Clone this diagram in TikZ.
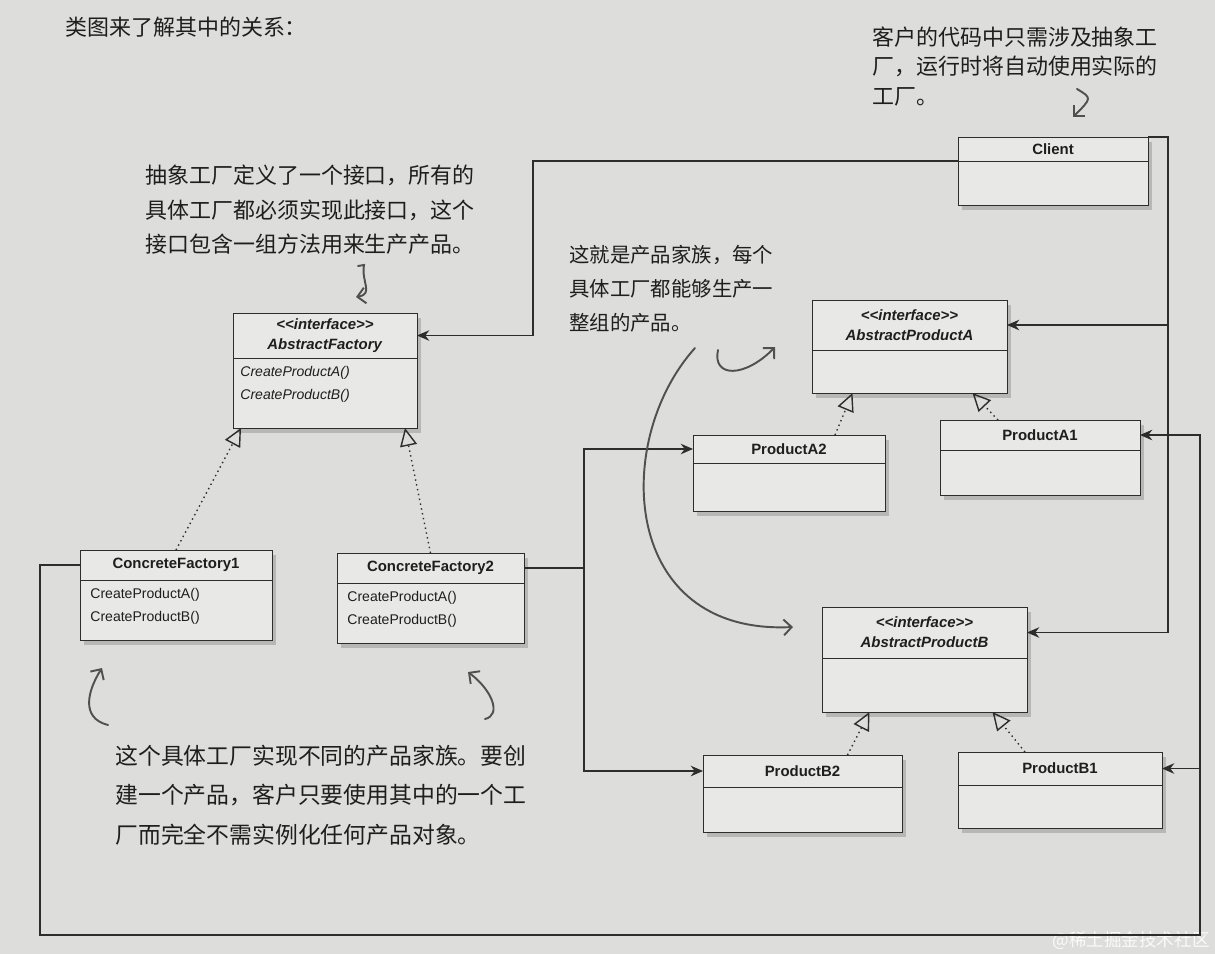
\documentclass[tikz,border=0pt]{standalone}
\usepackage{fontspec}
\usepackage{xcolor}
\newfontfamily\umlfont{Liberation Sans}
\newfontfamily\handfont{Noto Sans CJK SC}
\usetikzlibrary{arrows.meta,positioning,shadows,calc}

\definecolor{paper}{RGB}{221,221,219}
\definecolor{card}{RGB}{232,232,230}
\definecolor{edge}{RGB}{45,45,45}
\definecolor{pencil}{RGB}{80,80,80}
\definecolor{ink}{RGB}{30,30,30}

\begin{document}
\begin{tikzpicture}[
    x=0.02cm, y=-0.02cm,
    classhead/.style={rectangle, draw=edge, fill=card, line width=0.5pt, inner sep=1pt, outer sep=0pt, align=center, text=ink,
        font=\umlfont\bfseries\fontsize{8.5}{11.3}\selectfont,
        drop shadow={opacity=0.4, shadow xshift=0.08cm, shadow yshift=-0.1cm}},
    classbody/.style={rectangle, draw=edge, fill=card, line width=0.5pt, outer sep=0pt,
        drop shadow={opacity=0.4, shadow xshift=0.08cm, shadow yshift=-0.1cm}},
    methods/.style={anchor=north west, align=left, inner sep=0pt, text=ink, font=\umlfont\fontsize{8}{13.3}\selectfont},
    assoc/.style={-{Stealth[length=7pt, width=6pt]}, draw=edge, line width=0.85pt},
    realize/.style={-{Triangle[open, length=0.36cm, width=0.34cm]}, draw=edge, dotted, line width=0.8pt},
    annot/.style={anchor=north west, align=left, inner sep=0pt, text=ink},
    scribble/.style={-{Straight Barb[length=4.5pt, width=9pt]}, draw=pencil, line width=1.1pt, line cap=round}
]
    \fill[paper] (0,0) rectangle (1215,954);
    \useasboundingbox (0,0) rectangle (1215,954);

    % Page text
    \node[annot, font=\handfont\fontsize{12.5}{15}\selectfont] (lead) at (65,17) {类图来了解其中的关系：};

    % Client
    \node[classhead, minimum width=3.8cm, minimum height=0.48cm] (clienth) at (1053,149) {Client};
    \node[classbody, minimum width=3.8cm, minimum height=0.88cm, below=0pt of clienth] (clientb) {};

    % Factories
    \node[classhead, minimum width=3.68cm, minimum height=0.9cm] (afh) at (325,335.5) {\textit{<<interface>>}\\\textit{AbstractFactory}};
    \node[classbody, minimum width=3.68cm, minimum height=1.4cm, below=0pt of afh] (afb) {};
    \node[methods] (afm) at ($(afb.north west)+(7,8)$) {\textit{CreateProductA()}\\\textit{CreateProductB()}};

    \node[classhead, minimum width=3.84cm, minimum height=0.6cm] (cf1h) at (176,565) {ConcreteFactory1};
    \node[classbody, minimum width=3.84cm, minimum height=1.2cm, below=0pt of cf1h] (cf1b) {};
    \node[methods] (cf1m) at ($(cf1b.north west)+(10,8)$) {CreateProductA()\\CreateProductB()};

    \node[classhead, minimum width=3.74cm, minimum height=0.6cm] (cf2h) at (430.5,568) {ConcreteFactory2};
    \node[classbody, minimum width=3.74cm, minimum height=1.2cm, below=0pt of cf2h] (cf2b) {};
    \node[methods] (cf2m) at ($(cf2b.north west)+(10,8)$) {CreateProductA()\\CreateProductB()};

    % Products A
    \node[classhead, minimum width=3.9cm, minimum height=1cm] (apah) at (909.5,325) {\textit{<<interface>>}\\\textit{AbstractProductA}};
    \node[classbody, minimum width=3.9cm, minimum height=0.86cm, below=0pt of apah] (apab) {};

    \node[classhead, minimum width=3.84cm, minimum height=0.56cm] (pa2h) at (789,449) {ProductA2};
    \node[classbody, minimum width=3.84cm, minimum height=0.96cm, below=0pt of pa2h] (pa2b) {};

    \node[classhead, minimum width=4cm, minimum height=0.6cm] (pa1h) at (1040,435) {ProductA1};
    \node[classbody, minimum width=4cm, minimum height=0.9cm, below=0pt of pa1h] (pa1b) {};

    % Products B
    \node[classhead, minimum width=4.1cm, minimum height=1.02cm] (apbh) at (924.5,632.5) {\textit{<<interface>>}\\\textit{AbstractProductB}};
    \node[classbody, minimum width=4.1cm, minimum height=1.08cm, below=0pt of apbh] (apbb) {};

    \node[classhead, minimum width=3.98cm, minimum height=0.64cm] (pb2h) at (802.5,771) {ProductB2};
    \node[classbody, minimum width=3.98cm, minimum height=0.9cm, below=0pt of pb2h] (pb2b) {};

    \node[classhead, minimum width=4.08cm, minimum height=0.66cm] (pb1h) at (1060,768.5) {ProductB1};
    \node[classbody, minimum width=4.08cm, minimum height=0.86cm, below=0pt of pb1h] (pb1b) {};

    % Notes
    \node[annot, font=\handfont\fontsize{12.5}{17}\selectfont] (clientnote) at (872,26) {客户的代码中只需涉及抽象工\\厂，运行时将自动使用实际的\\工厂。};
    \node[annot, font=\handfont\fontsize{12.5}{19.6}\selectfont] (afnote) at (145,165) {抽象工厂定义了一个接口，所有的\\具体工厂都必须实现此接口，这个\\接口包含一组方法用来生产产品。};
    \node[annot, font=\handfont\fontsize{11.6}{19.3}\selectfont] (familynote) at (569,245) {这就是产品家族，每个\\具体工厂都能够生产一\\整组的产品。};
    \node[annot, font=\handfont\fontsize{13}{22.3}\selectfont] (cfnote) at (115,745) {这个具体工厂实现不同的产品家族。要创\\建一个产品，客户只要使用其中的一个工\\厂而完全不需实例化任何产品对象。};
    \node[anchor=east, inner sep=0pt, text=white!85!paper, font=\handfont\fontsize{10}{12}\selectfont] (mark) at (1210,941) {@稀土掘金技术社区};

    % Associations
    \coordinate (bus) at (1200,935);
    \draw[assoc] (clienth.south west) -- ++(-425,0) |- (afh.east);
    \draw[assoc] (clienth.north east) -- ++(20,0) |- (apah.east);
    \draw[assoc] (clienth.north east) -- ++(20,0) |- (apbh.east);
    \draw[assoc] (cf2h.east) -- ++(60,0) |- (pa2h.west);
    \draw[assoc] (cf2h.east) -- ++(60,0) |- (pb2h.west);
    \draw[assoc] (cf1h.west) -- ++(-40,0) |- (bus) |- (pa1h.east);
    \draw[assoc] (bus) |- (pb1h.east);

    % Realizations
    \draw[realize] (cf1h.north) -- ($(afb.south west)+(8,0)$);
    \draw[realize] (cf2h.north) -- ($(afb.south east)+(-12,0)$);
    \draw[realize] ($(pa2h.north)+(46,0)$) -- ($(apab.south)+(-57,0)$);
    \draw[realize] ($(pa1h.north)+(-42,0)$) -- ($(apab.south)+(63,0)$);
    \draw[realize] ($(pb2h.north)+(45,0)$) -- ($(apbb.south)+(-55,0)$);
    \draw[realize] ($(pb1h.north)+(-35,0)$) -- ($(apbb.south)+(68,0)$);

    % Pencil arrows
    \coordinate (clientcue) at (1077,89);
    \coordinate (clienttip) at (1073,117);
    \coordinate (afcue) at (358,266);
    \coordinate (aftip) at (356,297);
    \coordinate (hookcue) at (718,350);
    \coordinate (hooktip) at (775,347);
    \coordinate (swingcue) at (695,348);
    \coordinate (swingtip) at (793,627);
    \coordinate (cf1cue) at (108,725);
    \coordinate (cf1tip) at (102,668);
    \coordinate (cf2cue) at (485,719);
    \coordinate (cf2tip) at (468,672);
    \draw[scribble] (clientcue) .. controls (1092,98) .. (clienttip);
    \draw[scribble] (afcue) -- ++(6,-1) .. controls (361,282) and (374,294) .. (aftip);
    \draw[scribble] (hookcue) .. controls (712,378) and (745,378) .. (hooktip);
    \draw[scribble] (swingcue) .. controls (612,440) and (620,635) .. (swingtip);
    \draw[scribble] (cf1cue) .. controls (80,718) and (88,690) .. (cf1tip);
    \draw[scribble] (cf2cue) .. controls (502,715) and (492,690) .. (cf2tip);
\end{tikzpicture}
\end{document}
